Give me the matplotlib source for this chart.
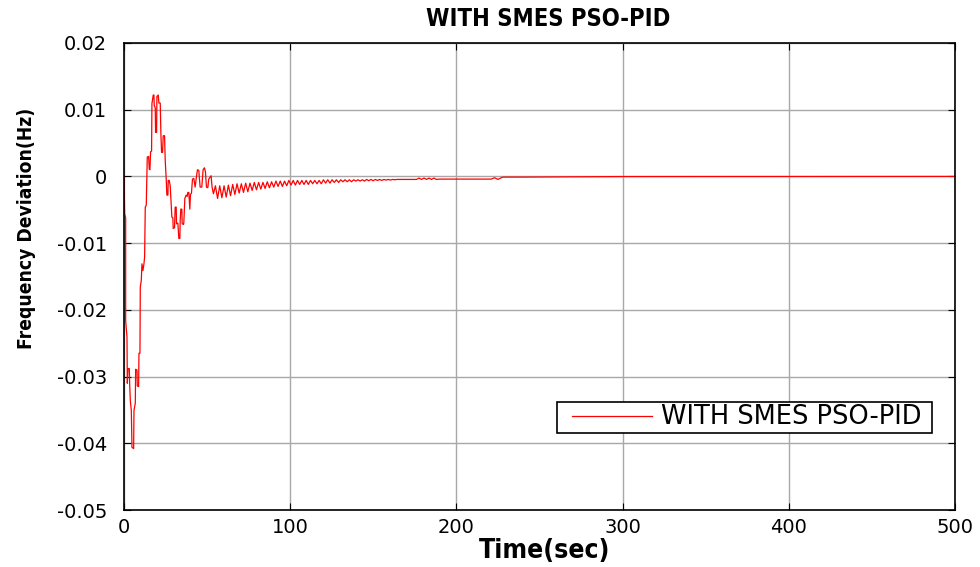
import matplotlib
matplotlib.use("Agg")
import matplotlib.pyplot as plt
from matplotlib.patches import Rectangle
import numpy as np

plt.rcParams['axes.unicode_minus'] = False

# ---------------- data ----------------
t_early = [0.0, 0.4, 1.0, 1.0, 1.8, 2.0, 2.4, 3.2, 3.4, 3.8, 4.4, 4.8, 5.8, 6.0, 6.8,
           7.0, 7.8, 8.0, 8.8, 9.0, 9.6, 9.8, 10.4, 10.8, 11.4, 12.0, 12.4, 12.8,
           13.4, 14.0, 14.8, 15.2, 15.6, 16.0, 16.6, 16.8, 17.6, 18.0, 18.2, 18.8,
           19.0, 19.6, 19.8, 20.6, 21.0, 21.8, 22.2, 22.6, 23.2, 23.6, 24.4, 24.8,
           25.4, 25.8, 26.4, 26.6, 27.2, 27.8, 28.8, 29.4, 29.6, 30.4, 30.8, 31.4,
           31.6, 32.4, 33.0, 33.6, 33.8, 34.2, 34.8, 35.0, 35.8, 36.0, 36.6, 37.4,
           38.0, 38.4, 39.0, 39.6, 40.0, 40.6, 41.2, 42.0, 42.8, 43.4, 44.2, 45.0,
           45.8, 46.8, 47.6, 48.4, 49.0, 49.6, 50.4, 51.0, 52.4, 53.0, 53.8]
v_early = [0.0, -0.0056, -0.0062, -0.0216, -0.0241, -0.0310, -0.0288, -0.0288, -0.0310,
           -0.0336, -0.0351, -0.0406, -0.0408, -0.0351, -0.0340, -0.0289, -0.0290,
           -0.0314, -0.0315, -0.0265, -0.0265, -0.0166, -0.0156, -0.0131, -0.0141,
           -0.0131, -0.0121, -0.0046, -0.0043, 0.0029, 0.0030, 0.0011, 0.0010,
           0.0037, 0.0038, 0.0109, 0.0122, 0.0122, 0.0106, 0.0103, 0.0066, 0.0066,
           0.0120, 0.0122, 0.0110, 0.0110, 0.0064, 0.0036, 0.0036, 0.0061, 0.0061,
           0.0024, -0.0004, -0.0028, -0.0028, -0.0006, -0.0006, -0.0014, -0.0061,
           -0.0062, -0.0078, -0.0077, -0.0046, -0.0046, -0.0071, -0.0070, -0.0093,
           -0.0093, -0.0066, -0.0049, -0.0049, -0.0071, -0.0072, -0.0069, -0.0033,
           -0.0028, -0.0030, -0.0024, -0.0024, -0.0049, -0.0027, -0.0025, -0.0004,
           -0.0003, -0.0016, -0.0004, 0.0010, 0.0009, -0.0016, -0.0016, 0.0010,
           0.0013, 0.0007, -0.0016, -0.0017, -0.0004, 0.0001, -0.0016, -0.0026]

t_osc = [55.0, 56.3, 57.6, 58.9, 60.2, 61.5, 62.8, 64.1, 65.4, 66.7, 68.0, 69.3, 70.6,
         71.9, 73.2, 74.5, 75.8, 77.1, 78.4, 79.7, 81.0, 82.3, 83.6, 84.9, 86.2, 87.5,
         88.8, 90.1, 91.4, 92.7, 94.0, 95.3, 96.6, 97.9, 99.2, 100.5, 101.8, 103.1,
         104.4, 105.7, 107.0, 108.3, 109.6, 110.9, 112.2, 113.5, 114.8, 116.1, 117.4,
         118.7, 120.0, 121.3, 122.6, 123.9, 125.2, 126.5, 127.8, 129.1, 130.4, 131.7,
         133.0, 134.3, 135.6, 136.9, 138.2, 139.5, 140.8, 142.1, 143.4, 144.7, 146.0,
         147.3, 148.6, 149.9, 151.2, 152.5, 153.8, 155.1, 156.4, 157.7, 159.0, 160.3,
         161.6, 162.9, 164.2]
v_osc = [-0.0014, -0.0033, -0.0014, -0.0032, -0.0014, -0.0031, -0.0013, -0.0029,
         -0.0012, -0.0027, -0.0011, -0.0025, -0.0011, -0.0024, -0.0010, -0.0023,
         -0.0010, -0.0021, -0.0009, -0.0020, -0.0009, -0.0019, -0.0009, -0.0018,
         -0.0008, -0.0017, -0.0008, -0.0016, -0.0007, -0.0015, -0.0007, -0.0015,
         -0.0007, -0.0014, -0.0006, -0.0013, -0.0006, -0.0013, -0.0006, -0.0012,
         -0.0006, -0.0012, -0.0006, -0.0012, -0.0006, -0.0011, -0.0006, -0.0011,
         -0.0006, -0.0011, -0.0005, -0.0010, -0.0005, -0.0010, -0.0005, -0.0009,
         -0.0005, -0.0009, -0.0005, -0.0008, -0.0005, -0.0008, -0.0005, -0.0008,
         -0.0005, -0.0007, -0.0005, -0.0007, -0.0005, -0.0007, -0.00045, -0.00065,
         -0.00045, -0.00065, -0.00045, -0.0006, -0.00045, -0.0006, -0.00045, -0.00055,
         -0.00045, -0.00055, -0.00045, -0.0005, -0.00045]

t_tail = [170.0, 176.0, 177.5, 179.0, 180.5, 182.0, 183.5, 185.0, 186.5, 188.0, 190.0,
          221.0, 223.0, 225.0, 227.0, 228.0, 240.0, 300.0, 500.0]
v_tail = [-0.00045, -0.00045, -0.00025, -0.00045, -0.00025, -0.00045, -0.00025,
          -0.00045, -0.00025, -0.00045, -0.0004, -0.0004, -0.0002, -0.00045, -0.0002,
          -0.0001, -0.0001, -0.00002, 0.0]

x_ticks = [0, 100, 200, 300, 400, 500]
y_ticks = [-0.05, -0.04, -0.03, -0.02, -0.01, 0.0, 0.01, 0.02]
y_tick_labels = ['-0.05', '-0.04', '-0.03', '-0.02', '-0.01', '0', '0.01', '0.02']
series_label = 'WITH SMES PSO-PID'
title_text = 'WITH SMES PSO-PID'
x_label = 'Time(sec)'
y_label = 'Frequency Deviation(Hz)'

# ---------------- figure ----------------
W, H = 980, 567
fig = plt.figure(figsize=(9.8, 5.67), dpi=100)
L, R, T, B = 124, 955, 43, 510
ax = fig.add_axes([L / W, 1 - B / H, (R - L) / W, (B - T) / H])

def ax_frac(px, py):
    return (px - L) / (R - L), (B - py) / (B - T)

t_all = t_early + t_osc + t_tail
v_all = v_early + v_osc + v_tail
ax.plot(t_all, v_all, color='red', linewidth=0.9, label=series_label)

ax.set_xlim(0, 500)
ax.set_ylim(-0.05, 0.02)
ax.set_xticks(x_ticks)
ax.set_xticklabels([str(v) for v in x_ticks])
ax.set_yticks(y_ticks)
ax.set_yticklabels(y_tick_labels)
ax.tick_params(direction='in', length=5, width=0.8, top=True, right=True, labelsize=14)
ax.tick_params(axis='y', pad=12)
ax.tick_params(axis='x', pad=6)
for lab in ax.get_xticklabels() + ax.get_yticklabels():
    lab.set_family('DejaVu Sans')

ax.grid(True, color='#a8a8a8', linewidth=1.0, linestyle='-')
ax.set_axisbelow(True)
for s in ax.spines.values():
    s.set_color('black')
    s.set_linewidth(1.2)

cond = dict(family='DejaVu Sans', fontweight='bold', fontstretch='condensed')
tx, ty = ax_frac(548, 19)
ax.set_title(title_text, fontsize=17, x=tx, y=ty, pad=0, va='center', **cond)
ax.set_xlabel(x_label, fontsize=19, **cond)
ax.xaxis.set_label_coords(*ax_frac(545, 551))
ax.xaxis.label.set_va('center')
ax.set_ylabel(y_label, fontsize=13.8, **cond)
ax.yaxis.set_label_coords(*ax_frac(27, 228))
ax.yaxis.label.set_va('center')

# legend box drawn as in the reference
bx0, by0 = ax_frac(557, 433)
bx1, by1 = ax_frac(932, 402)
ax.add_patch(Rectangle((bx0, by0), bx1 - bx0, by1 - by0, transform=ax.transAxes,
                       facecolor='white', edgecolor='black', linewidth=1.2, zorder=4))
leg = ax.legend(loc='center left', bbox_to_anchor=ax_frac(572, 417.5),
                frameon=False, handlelength=3.1, handletextpad=0.35,
                borderpad=0, borderaxespad=0,
                prop={'family': 'DejaVu Sans', 'size': 18.5})
leg.set_zorder(5)

fig.savefig('out.png', dpi=100)
